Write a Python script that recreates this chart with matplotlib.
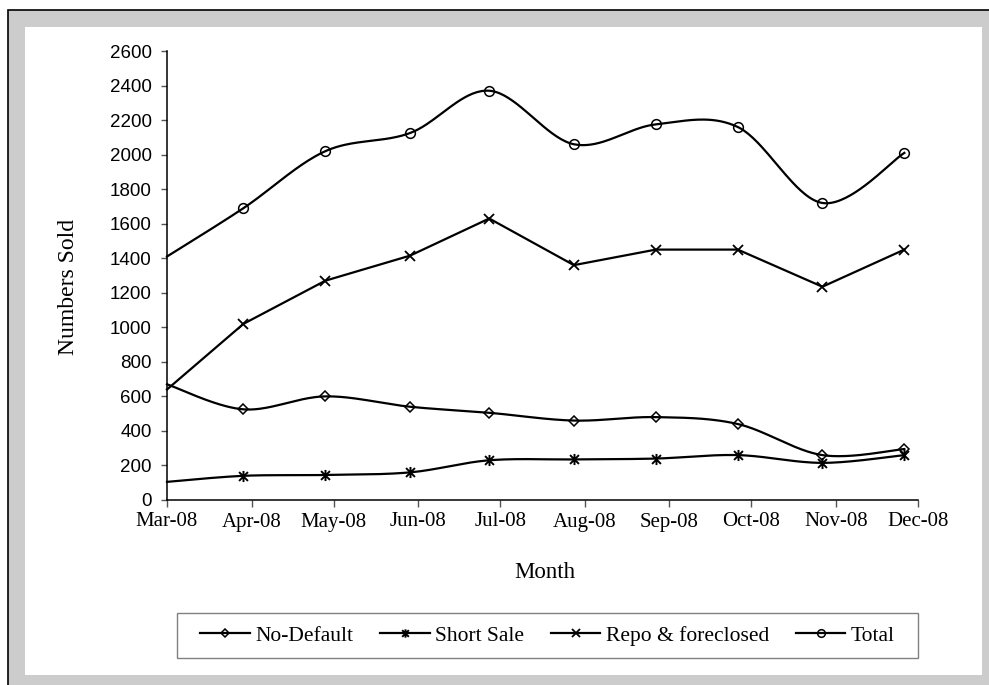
import numpy as np
import pandas as pd
import matplotlib
matplotlib.use("Agg")
import matplotlib.pyplot as plt
import matplotlib.dates as mdates
from matplotlib.path import Path
from matplotlib.lines import Line2D
from matplotlib.patches import Rectangle

# ---- data -------------------------------------------------------------
dates = ["2008-03-01", "2008-03-29", "2008-04-28", "2008-05-29", "2008-06-27",
         "2008-07-28", "2008-08-27", "2008-09-26", "2008-10-27", "2008-11-26"]
no_default = [670, 525, 600, 540, 505, 460, 480, 440, 260, 295]
short_sale = [105, 140, 145, 160, 230, 235, 240, 260, 215, 260]
repo_foreclosed = [640, 1020, 1270, 1415, 1630, 1360, 1450, 1450, 1235, 1450]
total = [1410, 1690, 2020, 2125, 2370, 2060, 2175, 2160, 1720, 2010]
series_names = ["No-Default", "Short Sale", "Repo & foreclosed", "Total"]
y_ticks = list(range(0, 2601, 200))

W, H = 989, 685
SERIF = ["Liberation Serif", "DejaVu Serif"]
SANS = ["Liberation Sans", "DejaVu Sans"]


def fx(x):
    return x / W


def fy(y):
    return 1 - y / H


def smooth(xs, ys, n=40):
    """Cubic Bezier smoothing through every point (Catmull-Rom style)."""
    P = np.column_stack([xs, ys]).astype(float)
    out = [P[0]]
    m = len(P)
    t = np.linspace(0, 1, n)[1:, None]
    for i in range(m - 1):
        p0, p1 = P[i], P[i + 1]
        pm = P[i - 1] if i > 0 else P[i]
        pp = P[i + 2] if i + 2 < m else P[i + 1]
        c1 = p0 + (p1 - pm) / 6.0
        c2 = p1 - (pp - p0) / 6.0
        seg = ((1 - t) ** 3) * p0 + 3 * ((1 - t) ** 2) * t * c1 \
            + 3 * (1 - t) * t ** 2 * c2 + t ** 3 * p1
        out.extend(seg)
    out = np.array(out)
    return out[:, 0], out[:, 1]


star = Path([(-1, -1), (1, 1), (-1, 1), (1, -1), (0, -1.25), (0, 1.25)],
            [Path.MOVETO, Path.LINETO, Path.MOVETO, Path.LINETO,
             Path.MOVETO, Path.LINETO])

fig = plt.figure(figsize=(W / 100, H / 100), dpi=100)
fig.patch.set_facecolor("white")

# chart frame: grey border band with black top/left edge
fig.patches.append(Rectangle((fx(8), -1.0), 2.0, fy(10) + 1.0, transform=fig.transFigure,
                             facecolor="#cccccc", edgecolor="black", lw=1.2,
                             zorder=0))
fig.patches.append(Rectangle((fx(25), fy(675)), fx(982) - fx(25), fy(27) - fy(675),
                             transform=fig.transFigure, facecolor="white",
                             edgecolor="none", zorder=0.5))

ax = fig.add_axes([fx(167), fy(500), fx(918) - fx(167), fy(51) - fy(500)])
ax.set_facecolor("none")
ax.set_zorder(3)

x = mdates.date2num(pd.to_datetime(dates))

styles = [
    dict(marker="D", ms=5.5, mew=1.1, mfc="none"),
    dict(marker=star, ms=8, mew=1.4, mfc="none"),
    dict(marker="x", ms=7.5, mew=1.3, mfc="none"),
    dict(marker="o", ms=7, mew=1.1, mfc="none"),
]
legend_sizes = [4.5, 6, 6, 5.5]
values = [no_default, short_sale, repo_foreclosed, total]
smoothed = [True, True, False, True]

for vals, st, sm in zip(values, styles, smoothed):
    if sm:
        sx, sy = smooth(x, vals)
    else:
        sx, sy = x, np.asarray(vals, float)
    ax.plot(sx, sy, color="black", lw=1.6, solid_joinstyle="round", zorder=2,
            clip_on=False)
    ax.plot(x[1:], vals[1:], ls="none", color="black", mec="black", zorder=3,
            clip_on=False, **st)

ax.set_xlim(mdates.date2num(pd.Timestamp("2008-03-01")),
            mdates.date2num(pd.Timestamp("2008-12-01")))
ax.set_ylim(0, 2600)
ax.set_yticks(y_ticks)
ax.xaxis.set_major_locator(mdates.MonthLocator())
ax.xaxis.set_major_formatter(mdates.DateFormatter("%b-%y"))

for s in ["top", "right"]:
    ax.spines[s].set_visible(False)
for s in ["left", "bottom"]:
    ax.spines[s].set_color("black")
    ax.spines[s].set_linewidth(1.1)

ax.tick_params(axis="y", direction="out", length=4, width=1, color="#555555",
               pad=7, labelsize=13.5)
ax.tick_params(axis="x", direction="out", length=5, width=1, color="#555555",
               pad=4, labelsize=15)
for lab in ax.get_yticklabels():
    lab.set_family(SANS)
for lab in ax.get_xticklabels():
    lab.set_family(SERIF)

fig.text(fx(68), fy(287), "Numbers Sold", rotation=90, ha="center", va="center",
         fontsize=17, family=SERIF, zorder=3)
fig.text(fx(545), fy(572), "Month", ha="center", va="center",
         fontsize=16.5, family=SERIF, zorder=3)

# legend box
fig.patches.append(Rectangle((fx(177), fy(658)), fx(918) - fx(177), fy(613) - fy(658),
                             transform=fig.transFigure, facecolor="white",
                             edgecolor="#808080", lw=1.0, zorder=1))
handles = []
for st, ms in zip(styles, legend_sizes):
    hs = dict(st)
    hs["ms"] = ms
    handles.append(Line2D([], [], color="black", lw=1.6, mec="black", **hs))
leg = fig.legend(handles, series_names, loc="center", ncol=4, frameon=False,
                 bbox_to_anchor=(fx(547.5), fy(635.5)), bbox_transform=fig.transFigure,
                 handlelength=2.3, handletextpad=0.25, columnspacing=1.25,
                 prop={"family": SERIF, "size": 15.5})
leg.set_zorder(4)

fig.savefig("out.png", dpi=100)
